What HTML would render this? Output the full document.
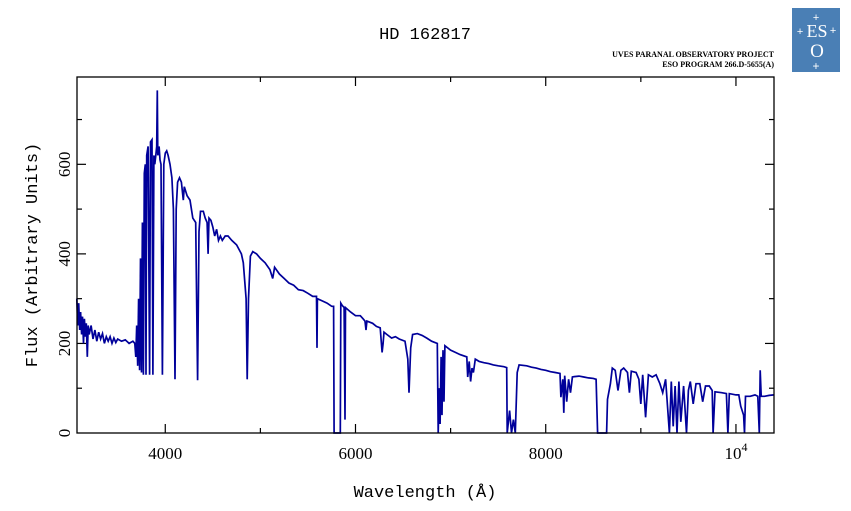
<!DOCTYPE html>
<html><head><meta charset="utf-8"><style>
body{margin:0;background:#fff}
svg{display:block}
text{font-family:"Liberation Mono","DejaVu Sans Mono",monospace;fill:#000}
</style></head><body>
<svg id="chart" width="851" height="511" viewBox="0 0 851 511">
<text x="425" y="39" font-size="17" text-anchor="middle">HD 162817</text>
<text x="774" y="57" font-size="8" text-anchor="end" font-family="Liberation Serif" style="font-family:'Liberation Serif',serif;font-weight:bold">UVES PARANAL OBSERVATORY PROJECT</text>
<text x="774" y="67" font-size="8" text-anchor="end" style="font-family:'Liberation Serif',serif;font-weight:bold">ESO PROGRAM 266.D-5655(A)</text>
<g>
<rect x="792" y="8" width="48" height="64" fill="#4a7fb5"/>
<text x="817" y="37" font-size="18" text-anchor="middle" style="fill:#fff;font-family:'Liberation Serif',serif">ES</text>
<text x="817" y="57" font-size="19" text-anchor="middle" style="fill:#fff;font-family:'Liberation Serif',serif">O</text>
<text x="816" y="21" font-size="11" text-anchor="middle" style="fill:#fff">+</text>
<text x="800" y="35" font-size="11" text-anchor="middle" style="fill:#fff">+</text>
<text x="833" y="34" font-size="11" text-anchor="middle" style="fill:#fff">+</text>
<text x="816" y="70" font-size="12" text-anchor="middle" style="fill:#fff">+</text>
</g>
<g id="axes"></g>
<g id="marks"></g>
<rect x="77" y="77" width="697" height="356" fill="none" stroke="#000" stroke-width="1.3"/>
<text x="425" y="497" font-size="17" text-anchor="middle">Wavelength (Å)</text>
<text transform="translate(37,255) rotate(-90)" font-size="17" text-anchor="middle">Flux (Arbitrary Units)</text>
</svg>
<script>
const wavelengths=[3070,3080,3090,3100,3110,3120,3130,3140,3150,3160,3170,3180,3190,3200,3220,3240,3260,3280,3300,3320,3340,3360,3380,3400,3420,3440,3460,3480,3500,3540,3580,3620,3660,3680,3690,3700,3710,3720,3730,3740,3750,3760,3770,3780,3790,3797,3805,3820,3835,3845,3860,3870,3880,3890,3900,3910,3916,3922,3935,3945,3955,3970,3985,4000,4015,4030,4050,4070,4085,4102,4115,4130,4150,4170,4190,4200,4230,4260,4290,4320,4340,4355,4370,4400,4420,4440,4450,4460,4480,4500,4520,4540,4560,4580,4600,4630,4660,4700,4750,4800,4820,4850,4861,4875,4895,4920,4960,5000,5050,5100,5130,5150,5200,5250,5300,5350,5400,5450,5500,5550,5590,5595,5600,5650,5700,5750,5770,5775,5840,5845,5860,5880,5890,5895,5950,6000,6050,6080,6100,6110,6120,6180,6220,6260,6280,6290,6300,6330,6380,6420,6460,6520,6550,6563,6580,6600,6650,6700,6750,6800,6860,6870,6880,6890,6900,6910,6920,6930,6940,7000,7050,7100,7170,7180,7195,7210,7225,7240,7260,7300,7350,7400,7450,7500,7560,7590,7595,7620,7640,7660,7680,7700,7720,7800,7850,7900,7950,8000,8050,8100,8150,8160,8180,8190,8200,8220,8240,8260,8280,8300,8350,8400,8450,8500,8530,8545,8640,8650,8680,8700,8730,8760,8790,8820,8860,8880,8900,8950,8980,9000,9020,9050,9080,9120,9160,9200,9230,9260,9300,9320,9340,9360,9380,9400,9420,9450,9480,9500,9520,9550,9580,9620,9650,9680,9720,9750,9760,9780,9850,9900,9915,9930,10000,10030,10050,10080,10090,10100,10150,10200,10230,10245,10255,10265,10300,10350,10400];
const fluxes=[300,240,290,230,270,220,260,200,255,215,245,170,240,220,240,210,230,205,225,210,222,200,215,205,215,200,212,202,210,205,208,200,205,200,170,240,150,300,140,390,135,470,130,580,600,130,620,640,130,650,655,130,620,600,620,640,765,620,640,610,600,130,600,625,630,620,600,570,500,120,500,560,570,560,520,550,530,520,480,470,118,450,495,495,480,470,400,480,475,460,440,455,430,440,430,440,440,430,420,400,380,300,120,300,395,405,400,390,380,365,345,370,355,345,335,330,320,318,312,305,305,190,300,295,290,283,283,0,0,290,285,280,30,280,270,262,262,255,250,230,250,245,238,235,180,200,225,220,212,215,210,205,165,90,190,220,222,218,212,205,200,0,100,20,170,40,185,70,195,185,180,175,170,125,160,115,145,135,165,160,157,155,152,150,148,146,0,50,0,30,0,135,152,150,147,145,142,140,137,135,133,80,120,45,128,70,120,90,125,126,127,125,123,122,120,0,0,75,110,145,140,95,140,145,135,90,138,135,120,65,130,35,130,125,130,110,90,120,0,115,15,105,0,115,25,105,0,95,115,65,110,110,70,105,105,95,0,92,90,88,0,88,85,85,60,40,0,82,82,85,82,0,140,82,82,84,85];
const xTicks=[4000,6000,8000,10000];
const xTickLabels=["4000","6000","8000","10"];
const yTicks=[0,200,400,600];
const yTickLabels=["0","200","400","600"];
const X0=77,X1=774,Y0=433,Y1=77,WMIN=3072,WMAX=10400,FMIN=0,FMAX=795;
function xs(w){return X0+(w-WMIN)/(WMAX-WMIN)*(X1-X0);}
function ys(f){return Y0-(f-FMIN)/(FMAX-FMIN)*(Y0-Y1);}
const NS="http://www.w3.org/2000/svg";
const axes=document.getElementById('axes');
function line(x1,y1,x2,y2,name){const l=document.createElementNS(NS,'line');l.setAttribute('x1',x1);l.setAttribute('y1',y1);l.setAttribute('x2',x2);l.setAttribute('y2',y2);l.setAttribute('stroke','#000');l.setAttribute('stroke-width','1.2');


axes.appendChild(l);}
for(let w=4000;w<=10000;w+=1000){const x=xs(w);const big=xTicks.includes(w);const L=big?9:5;line(x,Y0,x,Y0-L,'x-tick');line(x,Y1,x,Y1+L,'x-tick-top');}
for(let f=100;f<=700;f+=100){const y=ys(f);const big=yTicks.includes(f);const L=big?9:5;line(X0,y,X0+L,y,'y-tick');line(X1,y,X1-L,y,'y-tick-right');}
xTicks.forEach((w,i)=>{const t=document.createElementNS(NS,'text');t.setAttribute('x',xs(w));t.setAttribute('y',459);t.setAttribute('font-size','17');t.setAttribute('text-anchor','middle');t.setAttribute('style',"font-family:'Liberation Serif',serif");t.textContent=xTickLabels[i];


if(w===10000){const s=document.createElementNS(NS,'tspan');s.setAttribute('font-size','12');s.setAttribute('dy','-8');s.textContent='4';t.appendChild(s);}
axes.appendChild(t);});
yTicks.forEach((f,i)=>{const t=document.createElementNS(NS,'text');const y=ys(f);t.setAttribute('transform','translate(70,'+y+') rotate(-90)');t.setAttribute('font-size','17');t.setAttribute('text-anchor','middle');t.setAttribute('style',"font-family:'Liberation Serif',serif");t.textContent=yTickLabels[i];


axes.appendChild(t);});
const p=document.createElementNS(NS,'polyline');
p.setAttribute('points',wavelengths.map((w,i)=>xs(w).toFixed(1)+','+ys(fluxes[i]).toFixed(1)).join(' '));
p.setAttribute('fill','none');p.setAttribute('stroke','#00009a');p.setAttribute('stroke-width','1.7');p.setAttribute('stroke-linejoin','miter');


document.getElementById('marks').appendChild(p);
</script>
</body></html>
